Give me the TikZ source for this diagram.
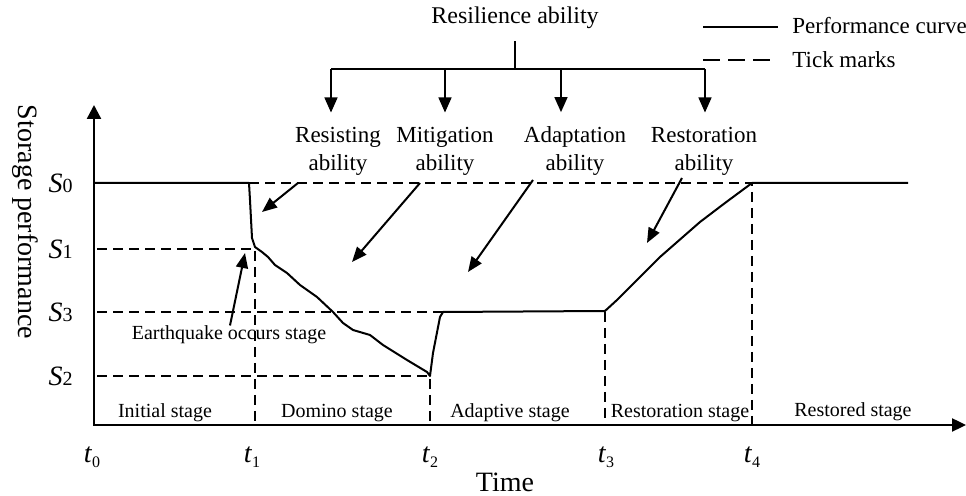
\documentclass[tikz,border=0pt]{standalone}
\usepackage{fontspec}
\setmainfont{Liberation Serif}
\usetikzlibrary{arrows.meta, calc}
\newcommand{\livello}[1]{\textit{S}{\fontsize{10}{10}\selectfont #1}}
\newcommand{\istante}[1]{\textit{t}\raisebox{-2.5pt}{\fontsize{8}{8}\selectfont #1}}

\begin{document}
\begin{tikzpicture}[x=0.5pt, y=-0.5pt,
    asse/.style = {line width=1.2pt},
    curva/.style = {line width=1pt, line join=round},
    tacca/.style = {line width=0.7pt, dash pattern=on 5pt off 3pt},
    ramo/.style = {line width=0.7pt},
    freccia/.style = {line width=0.7pt, -{Triangle[length=7.5pt, width=6.5pt]}},
    puntatore/.style = {line width=1pt, -{Triangle[length=7.5pt, width=6pt]}},
    abilita/.style = {align=center, inner sep=0pt, font=\fontsize{11.5}{14}\selectfont},
    fase/.style = {inner sep=0pt, font=\fontsize{10}{12}\selectfont},
    etichetta/.style = {inner sep=0pt, font=\fontsize{11.5}{12}\selectfont}]
    % Parametri
    \pgfmathsetmacro{\xasse}{425}
    \pgfmathsetmacro{\yzero}{183}
    \pgfmathsetmacro{\yuno}{249}
    \pgfmathsetmacro{\ytre}{312}
    \pgfmathsetmacro{\ydue}{376}
    \pgfmathsetmacro{\tuno}{255}
    \pgfmathsetmacro{\tdue}{430}
    \pgfmathsetmacro{\ttre}{605}
    \pgfmathsetmacro{\tquattro}{752}
    \pgfmathsetmacro{\ybarra}{69}
    \useasboundingbox (0,0) rectangle (966,496);
    % Assi
    \coordinate (O) at (94,\xasse);
    \coordinate (Y) at (94,105);
    \coordinate (X) at (966,\xasse);
    \draw[asse, {Triangle[length=7pt, width=7pt]}-{Triangle[length=7pt, width=6.5pt]}] (Y) -- (O) -- (X);
    \node[rotate=-90, inner sep=0pt, font=\fontsize{14}{14}\selectfont] (ylab) at (25,222) {Storage performance};
    \node[inner sep=0pt, font=\fontsize{14}{14}\selectfont] (xlab) at (505,482) {Time};
    % Livelli e istanti
    \node[etichetta, anchor=east, font=\fontsize{14}{14}\selectfont] (S0) at (73,\yzero) {\livello{0}};
    \node[etichetta, anchor=east, font=\fontsize{14}{14}\selectfont] (S1) at (73,\yuno) {\livello{1}};
    \node[etichetta, anchor=east, font=\fontsize{14}{14}\selectfont] (S3) at (73,\ytre) {\livello{3}};
    \node[etichetta, anchor=east, font=\fontsize{14}{14}\selectfont] (S2) at (73,\ydue) {\livello{2}};
    \foreach \x/\i in {92/0, 252/1, 430/2, 606/3, 752/4}
        \node[etichetta, font=\fontsize{14}{14}\selectfont] (t\i) at (\x,457) {\istante{\i}};
    % Tacche
    \draw[tacca] (\tuno-6,\yzero) -- (\tquattro,\yzero) -- (\tquattro,\xasse);
    \draw[tacca] (97,\yuno) -- (\tuno,\yuno) -- (\tuno,\xasse);
    \draw[tacca] (97,\ytre) -- (443,\ytre);
    \draw[tacca] (97,\ydue) -- (\tdue,\ydue) -- (\tdue,\xasse);
    \draw[tacca] (\ttre,\ytre) -- (\ttre,\xasse);
    % Curva di prestazione
    \draw[curva] (94,\yzero) -- (\tuno-6,\yzero) -- (250,200) -- (252,238) -- (255,247)
        -- (262,252) -- (268,257) -- (275,265) -- (287,273) -- (300,285) -- (317,297)
        -- (333,312) -- (343,323) -- (353,330) -- (370,335) -- (383,345) -- (407,360)
        -- (427,372) -- (\tdue,\ydue) -- (433,353) -- (440,317) -- (443,\ytre)
        -- (\ttre,\ytre-1) -- (617,300) -- (640,277) -- (660,257) -- (700,222)
        -- (725,203) -- (\tquattro,\yzero) -- (908,\yzero);
    % Fasi
    \node[fase] (iniz) at (165,413) {Initial stage};
    \node[fase] (domino) at (337,413) {Domino stage};
    \node[fase] (adatt) at (510,413) {Adaptive stage};
    \node[fase] (ripr) at (680,413) {Restoration stage};
    \node[fase] (ripri) at (853,412) {Restored stage};
    \node[fase] (terremoto) at (229,335) {Earthquake occurs stage};
    % Albero delle abilita
    \node[etichetta, font=\fontsize{12}{12}\selectfont] (resil) at (515,18) {Resilience ability};
    \node[abilita] (resist) at (338,151) {Resisting\\ability};
    \node[abilita] (mitig) at (445,151) {Mitigation\\ability};
    \node[abilita] (adapt) at (575,151) {Adaptation\\ability};
    \node[abilita] (restor) at (704,151) {Restoration\\ability};
    \coordinate (nodo) at (515,\ybarra);
    \draw[ramo, shorten <=6pt] (resil.south) -- (nodo);
    \draw[ramo] (331,\ybarra) -- (705,\ybarra);
    \foreach \x/\n in {331/resist, 445/mitig, 561/adapt, 705/restor}
        \draw[freccia, shorten >=7pt] (\x,\ybarra) -- (\x,0 |- \n.north);
    % Frecce verso la curva
    \coordinate (pRes) at (298,183);  \coordinate (qRes) at (262,212);
    \coordinate (pMit) at (420,183);  \coordinate (qMit) at (352,262);
    \coordinate (pAda) at (533,180);  \coordinate (qAda) at (468,272);
    \coordinate (pRip) at (682,178);  \coordinate (qRip) at (647,243);
    \coordinate (qTer) at (245,253);
    \draw[puntatore] (pRes) -- (qRes);
    \draw[puntatore] (pMit) -- (qMit);
    \draw[puntatore] (pAda) -- (qAda);
    \draw[puntatore] (pRip) -- (qRip);
    \draw[puntatore] (terremoto.north -| 230,0) -- (qTer);
    % Legenda
    \node[etichetta, anchor=west] (legc) at (792,26) {Performance curve};
    \node[etichetta, anchor=west] (legt) at (792,60) {Tick marks};
    \draw[line width=1pt] ($(legc.west)+(-89,1)$) -- ($(legc.west)+(-14,1)$);
    \draw[line width=1.3pt, dash pattern=on 8.5pt off 4pt] ($(legt.west)+(-89,0)$) -- ($(legt.west)+(-17,0)$);
\end{tikzpicture}
\end{document}
